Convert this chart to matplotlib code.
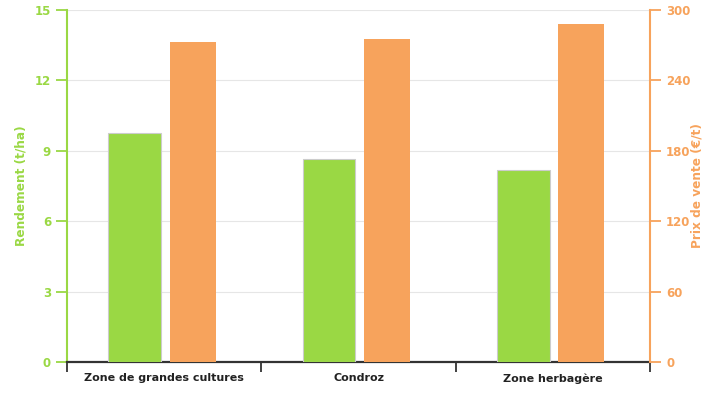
import numpy as np
import matplotlib.pyplot as plt

# données
zones = ["Zone de grandes cultures", "Condroz", "Zone herbagère"]
rendement = [9.75, 8.65, 8.2]      # t/ha
prix = [273, 275, 288]             # €/t

green = "#9ad844"
orange = "#f7a35c"

fig = plt.figure(figsize=(7.25, 4.0), dpi=100)
ax = fig.add_axes([0.0924, 0.095, 0.8042, 0.88])
ax2 = ax.twinx()

x = np.arange(len(zones))
ax.bar(x - 0.152, rendement, width=0.27, color=green, edgecolor="#cccccc", linewidth=0.8, zorder=3)
ax2.bar(x + 0.147, prix, width=0.237, color=orange, zorder=3)

ax.set_xlim(-0.5, 2.5)
ax.set_ylim(0, 15)
ax2.set_ylim(0, 300)
ax.set_yticks(np.arange(0, 16, 3))
ax2.set_yticks(np.arange(0, 301, 60))

ax.grid(axis="y", color="#e6e6e6", linewidth=0.8, zorder=0)
ax.set_axisbelow(True)

# axe x
ax.set_xticks(x)
ax.set_xticklabels(zones, fontsize=8, fontweight="bold", color="#222222")
ax.set_xticks(np.arange(-0.5, 3, 1), minor=True)
ax.tick_params(axis="x", which="major", length=0, pad=8)
ax.tick_params(axis="x", which="minor", length=7, width=1.3, color="#333333")

ax.spines["top"].set_visible(False)
ax2.spines["top"].set_visible(False)
ax.spines["bottom"].set_color("#333333")
ax.spines["bottom"].set_linewidth(1.6)
ax2.spines["bottom"].set_visible(False)
ax.spines["right"].set_visible(False)
ax2.spines["left"].set_visible(False)

ax.spines["left"].set_color(green)
ax.spines["left"].set_linewidth(1.5)
ax2.spines["right"].set_color(orange)
ax2.spines["right"].set_linewidth(1.5)

ax.tick_params(axis="y", colors=green, length=8, width=1.3, labelsize=8.5)
ax2.tick_params(axis="y", colors=orange, length=8, width=1.3, labelsize=8.5)
for lab in ax.get_yticklabels():
    lab.set_fontweight("bold")
for lab in ax2.get_yticklabels():
    lab.set_fontweight("bold")

ax.set_ylabel("Rendement (t/ha)", color=green, fontsize=8.7, fontweight="bold", labelpad=5)
ax2.set_ylabel("Prix de vente (€/t)", color=orange, fontsize=8.7, fontweight="bold", labelpad=0)

fig.savefig("out.png", dpi=100)
